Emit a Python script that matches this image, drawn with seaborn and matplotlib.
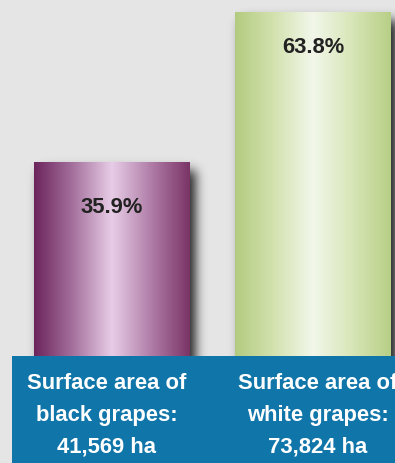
import math
import numpy as np
import matplotlib
matplotlib.use('Agg')
import matplotlib.pyplot as plt
import seaborn as sns
from matplotlib.colors import LinearSegmentedColormap
from matplotlib.patches import Rectangle
from matplotlib.transforms import offset_copy, blended_transform_factory

# ---------------- data ----------------
categories = ['Black grapes', 'White grapes']
shares = [35.9, 63.8]
share_labels = ['35.9%', '63.8%']
area_lines = [
    ['Surface area of', 'black grapes:', '41,569 ha'],
    ['Surface area of', 'white grapes:', '73,824 ha'],
]

# ---------------- style ----------------
W, H = 395, 464
BG = '#e5e5e5'
BAND = '#1075a9'
bar_stops = [
    ['#6c255c', '#a5719d', '#e8cde7', '#b07ea8', '#7b3467'],
    ['#b3cb80', '#d3e2af', '#f2f7ea', '#d8e6b8', '#b8cf86'],
]
label_offsets_px = [-50, -40]      # baseline of % label below bar top
band_x_offsets_px = [-5, 5]
band_baselines_px = [389, 421, 453]  # from top of figure

sns.set_theme(style='white')
plt.rcParams['font.family'] = ['Liberation Sans', 'DejaVu Sans']

fig = plt.figure(figsize=(W / 100, H / 100), dpi=100, facecolor=BG)
ax = fig.add_axes([0, 0, 1, 1])
ax.set_facecolor(BG)

sns.barplot(x=categories, y=shares, hue=categories, palette=[s[0] for s in bar_stops],
            width=0.776, legend=False, ax=ax, saturation=1)

ax.set_xlim(-0.557, 1.408)
ax.set_ylim(-19.83, 66.17)
ax.axis('off')

xpx = (ax.get_xlim()[1] - ax.get_xlim()[0]) / W
ypx = (ax.get_ylim()[1] - ax.get_ylim()[0]) / H

bars = list(ax.patches)

def phi(z):
    return 0.5 * (1 + np.vectorize(math.erf)(z / math.sqrt(2)))

for i, p in enumerate(bars):
    x0, y0 = p.get_x(), p.get_y()
    w, h = p.get_width(), p.get_height()
    x1, y1 = x0 + w, y0 + h
    p.set_zorder(3)
    p.set_edgecolor('none')

    # soft drop shadow
    dx, dy, sig, amax = 6, 8, 5.5, 0.85
    pad = 25
    sx0, sx1 = x0 - pad * xpx, x1 + (dx + pad) * xpx
    sy0, sy1 = ax.get_ylim()[0], y1 + pad * ypx
    nx = int((sx1 - sx0) / xpx)
    ny = int((sy1 - sy0) / ypx)
    gx = np.linspace(sx0, sx1, nx) / xpx
    gy = np.linspace(sy1, sy0, ny) / ypx
    fx = phi((gx - (x0 / xpx + dx)) / sig) * phi(((x1 / xpx + dx) - gx) / sig)
    fy = phi(((y1 / ypx - dy) - gy) / sig)
    alpha = amax * np.outer(fy, fx)
    img = np.zeros((ny, nx, 4))
    img[..., 3] = alpha
    ax.imshow(img, extent=(sx0, sx1, sy0, sy1), aspect='auto', zorder=2,
              interpolation='bilinear')

    # cylinder gradient
    cmap = LinearSegmentedColormap.from_list(f'g{i}', bar_stops[i])
    grad = np.linspace(0, 1, 256).reshape(1, -1)
    im = ax.imshow(grad, cmap=cmap, extent=(x0, x1, y0, y1), aspect='auto',
                   zorder=3.5, interpolation='bicubic')
    im.set_clip_path(p)

    # percentage label
    tr = offset_copy(ax.transData, fig=fig, x=0, y=label_offsets_px[i] * 72 / 100, units='points')
    ax.text(x0 + w / 2, y1, share_labels[i], transform=tr, ha='center', va='baseline',
            fontsize=15.8, fontweight='bold', color='#222222', zorder=6)

# blue band
ax.add_patch(Rectangle((12 / W, 0), 1, 107 / H, transform=ax.transAxes,
                       facecolor=BAND, edgecolor='none', zorder=5))

blend = blended_transform_factory(ax.transData, ax.transAxes)
for i, p in enumerate(bars):
    cx = p.get_x() + p.get_width() / 2
    tr = offset_copy(blend, fig=fig, x=band_x_offsets_px[i] * 72 / 100, y=0, units='points')
    for line, yb in zip(area_lines[i], band_baselines_px):
        ax.text(cx, 1 - yb / H, line, transform=tr, ha='center', va='baseline',
                fontsize=15.8, fontweight='bold', color='white', zorder=6)

fig.savefig('out.png', dpi=100, facecolor=BG)
